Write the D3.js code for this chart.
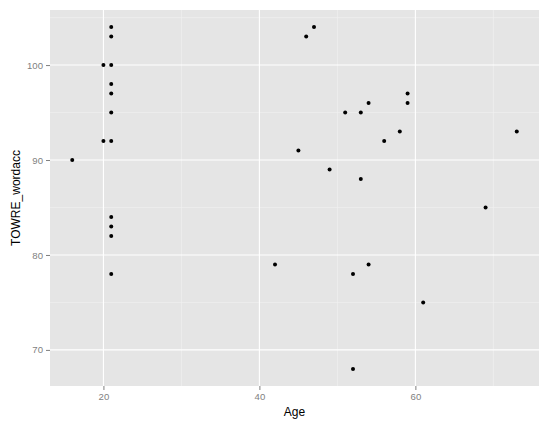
<!DOCTYPE html>
<html>
<head>
<meta charset="utf-8">
<script src="https://cdn.jsdelivr.net/npm/d3@7"></script>
<style>
  body { margin: 0; background: #fff; }
  text { font-family: "Liberation Sans", Arial, sans-serif; }
</style>
</head>
<body>
<div id="chart-area"></div>
<script>
// Age / TOWRE_wordacc pairs
const age = [16, 20, 20, 21, 21, 21, 21, 21, 21, 21, 21, 21, 21, 21, 42,
  45, 46, 47, 49, 51, 52, 52, 53, 53, 54, 54, 56, 58, 59, 59, 61, 69, 73];
const wordacc = [90, 100, 92, 104, 103, 100, 98, 97, 95, 92, 84, 83, 82, 78, 79,
  91, 103, 104, 89, 95, 78, 68, 95, 88, 96, 79, 92, 93, 97, 96, 75, 85, 93];
const xTicks = [20, 40, 60];
const yTicks = [70, 80, 90, 100];

const width = 550, height = 425;
const panel = { left: 50, right: 539, top: 10, bottom: 386 };

const data = age.map((a, i) => ({ age: a, acc: wordacc[i] }));

// ggplot-style 5% expansion
const xExt = d3.extent(age), yExt = d3.extent(wordacc);
const xPad = (xExt[1] - xExt[0]) * 0.05, yPad = (yExt[1] - yExt[0]) * 0.05;

const x = d3.scaleLinear()
  .domain([xExt[0] - xPad, xExt[1] + xPad])
  .range([panel.left, panel.right]);
const y = d3.scaleLinear()
  .domain([yExt[0] - yPad, yExt[1] + yPad])
  .range([panel.bottom, panel.top]);

const svg = d3.select('#chart-area').append('svg')
  .attr('width', width)
  .attr('height', height);

svg.append('rect')
  .attr('x', panel.left)
  .attr('y', panel.top)
  .attr('width', panel.right - panel.left)
  .attr('height', panel.bottom - panel.top)
  .attr('fill', '#e5e5e5');

// minor grid at midpoints
const xMinor = [30, 50, 70];
const yMinor = [75, 85, 95, 105];
svg.append('g').selectAll('line')
  .data(xMinor)
  .enter().append('line')
  .attr('x1', d => x(d)).attr('x2', d => x(d))
  .attr('y1', panel.top).attr('y2', panel.bottom)
  .attr('stroke', '#f2f2f2').attr('stroke-width', 0.6);
svg.append('g').selectAll('line')
  .data(yMinor)
  .enter().append('line')
  .attr('x1', panel.left).attr('x2', panel.right)
  .attr('y1', d => y(d)).attr('y2', d => y(d))
  .attr('stroke', '#f2f2f2').attr('stroke-width', 0.6);

// major grid
svg.append('g').selectAll('line')
  .data(xTicks)
  .enter().append('line')
  .attr('x1', d => x(d)).attr('x2', d => x(d))
  .attr('y1', panel.top).attr('y2', panel.bottom)
  .attr('stroke', '#fff').attr('stroke-width', 1.1);
svg.append('g').selectAll('line')
  .data(yTicks)
  .enter().append('line')
  .attr('x1', panel.left).attr('x2', panel.right)
  .attr('y1', d => y(d)).attr('y2', d => y(d))
  .attr('stroke', '#fff').attr('stroke-width', 1.1);

// axes
const xAxis = svg.append('g')
  .attr('transform', `translate(0,${panel.bottom})`)
  .call(d3.axisBottom(x).tickValues(xTicks).tickSize(4).tickPadding(3));
const yAxis = svg.append('g')
  .attr('transform', `translate(${panel.left},0)`)
  .call(d3.axisLeft(y).tickValues(yTicks).tickSize(4).tickPadding(3));

[xAxis, yAxis].forEach(g => {
  g.select('.domain').remove();
  g.selectAll('line').attr('stroke', '#7f7f7f');
  g.selectAll('text')
    .attr('fill', '#7f7f7f')
    .attr('font-size', '9.6px')
    .attr('font-family', '"Liberation Sans", Arial, sans-serif');
});

svg.append('g').selectAll('circle')
  .data(data)
  .enter().append('circle')
  .attr('cx', d => x(d.age))
  .attr('cy', d => y(d.acc))
  .attr('r', 2)
  .attr('fill', '#000');

svg.append('text')
  .attr('x', (panel.left + panel.right) / 2)
  .attr('y', 416)
  .attr('text-anchor', 'middle')
  .attr('font-size', '12px')
  .text('Age');

svg.append('text')
  .attr('transform', `translate(20,${(panel.top + panel.bottom) / 2}) rotate(-90)`)
  .attr('text-anchor', 'middle')
  .attr('font-size', '12px')
  .text('TOWRE_wordacc');
</script>
</body>
</html>
